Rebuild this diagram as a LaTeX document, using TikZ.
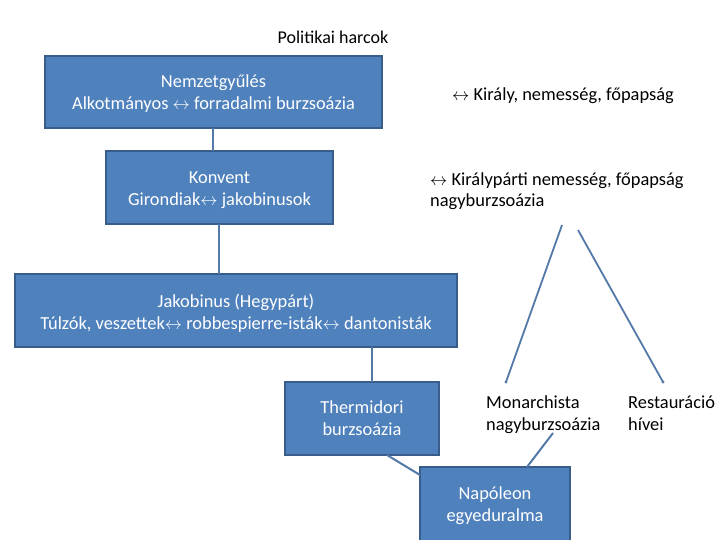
\documentclass[tikz,border=0pt]{standalone}
\usepackage{fontspec}
\setmainfont{Carlito}
\begin{document}
\begin{tikzpicture}[x=1pt,y=-1pt,
  box/.style={draw=boxline,line width=2pt,fill=boxfill,text=white},
  conn/.style={draw=connc,line width=1.2pt},
  txt/.style={font=\fontsize{18.4}{22}\selectfont}]
\definecolor{boxfill}{HTML}{4F81BD}
\definecolor{boxline}{HTML}{385D8A}
\definecolor{connc}{HTML}{5279A8}
\useasboundingbox (0,0) rectangle (720,540);
\fill[white] (0,0) rectangle (720,540);
\node[inner sep=0pt,font=\fontsize{18}{22}\selectfont] (title) at (333,37) {Politikai harcok};
% boxes
\draw[box] (45,56) rectangle (382,128);
\node[txt,text=white,align=center] (nemz) at (213.5,94) {Nemzetgyűlés\\Alkotmányos $\leftrightarrow$ forradalmi burzsoázia};
\draw[box] (106,151) rectangle (333,224);
\node[txt,text=white,align=center] (konv) at (219.5,190) {Konvent\\Girondiak$\leftrightarrow$ jakobinusok};
\draw[box] (15,274) rectangle (457,347);
\node[txt,text=white,align=center] (jako) at (236,313) {Jakobinus (Hegypárt)\\Túlzók, veszettek$\leftrightarrow$ robbespierre-isták$\leftrightarrow$ dantonisták};
\draw[box] (285,382) rectangle (439,455);
\node[txt,text=white,align=center] (ther) at (362,418) {Thermidori\\burzsoázia};
\draw[box] (420,467) rectangle (570,560);
\node[txt,text=white,align=center] (napo) at (495,506) {Napóleon\\egyeduralma};
% named box edges
\coordinate (nemzB) at (213,128);
\coordinate (konvT) at (213,151);
\coordinate (konvB) at (219,224);
\coordinate (jakoT) at (219,274);
\coordinate (jakoB) at (372,347);
\coordinate (therT) at (372,382);
\coordinate (therB) at (387,455);
\coordinate (napoL) at (420,475);
\coordinate (napoT) at (527,467);
% side texts
\node[txt,anchor=west,inner sep=0pt] (kir) at (452,96) {$\leftrightarrow$ Király, nemesség, főpapság};
\node[txt,anchor=north west,inner sep=0pt,align=left,font=\fontsize{18.4}{20.5}\selectfont] (kirp) at (430,173) {$\leftrightarrow$ Királypárti nemesség, főpapság\\nagyburzsoázia};
\node[txt,anchor=north west,inner sep=0pt,align=left] (mon) at (486,396) {Monarchista\\nagyburzsoázia};
\node[txt,anchor=north west,inner sep=0pt,align=left] (rest) at (628,396) {Restauráció\\hívei};
\coordinate (s1) at (562,225);
\coordinate (e1) at (506,382);
\coordinate (s2) at (578,230);
\coordinate (e2) at (663,382);
\coordinate (monB) at (553,433);
% connectors
\draw[conn] (nemzB) -- (konvT);
\draw[conn] (konvB) -- (jakoT);
\draw[conn] (jakoB) -- (therT);
\draw[conn,line width=2pt] (therB) -- (napoL);
\draw[conn,line width=2pt] (monB) -- (napoT);
\draw[conn,line width=1.8pt] (s1) -- (e1);
\draw[conn,line width=1.8pt] (s2) -- (e2);
\fill[connc] (e1) circle (1.6);
\fill[connc] (e2) circle (1.6);
\end{tikzpicture}
\end{document}
